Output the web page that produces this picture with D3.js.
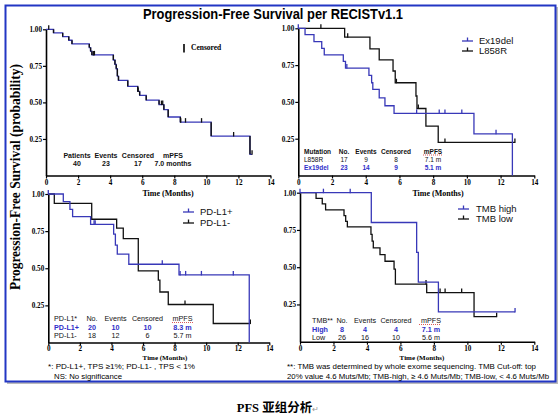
<!DOCTYPE html>
<html><head><meta charset="utf-8">
<script src="https://cdn.jsdelivr.net/npm/d3@7"></script>
<style>body{margin:0;background:#fff}svg{display:block}</style>
</head><body>
<svg id="c" width="560" height="420"></svg>
<script>
// ---------- data ----------
const xTicks = [0, 2, 4, 6, 8, 10, 12, 14];
const yTicks = [0.25, 0.50, 0.75, 1.00];
const titleText = "Progression-Free Survival per RECISTv1.1";
const yLabelText = "Progression-Free Survival (probability)";
const xLabelText = "Time (Months)";

// Panel A: all patients
const allTimes  = [0.47, 1.04, 1.42, 1.62, 2.70, 2.78, 2.86, 4.20, 4.30, 4.38, 4.45, 4.52, 5.10, 5.72, 5.84, 6.25, 7.05, 7.35, 7.62, 8.38, 10.30, 12.72];
const allSurv   = [0.975, 0.95, 0.925, 0.90, 0.875, 0.85, 0.825, 0.79, 0.76, 0.73, 0.68, 0.65, 0.61, 0.575, 0.548, 0.515, 0.485, 0.45, 0.40, 0.365, 0.27, 0.145];
const allCensor = [0.17, 2.95, 3.02, 5.75, 7.20, 7.28, 8.40, 8.70, 9.70, 11.70, 12.85];
const allEnd = 12.85;
const tableAHeader = ["Patients", "Events", "Censored", "mPFS"];
const tableARow = ["40", "23", "17", "7.0 months"];
const censoredLegend = "Censored";

// Panel B: mutation
const mutLabels = ["Ex19del", "L858R"];
const exTimes  = [0.40, 0.93, 1.39, 1.54, 2.67, 2.80, 4.19, 4.35, 4.42, 4.80, 5.14, 5.68, 10.42, 12.70];
const exSurv   = [0.957, 0.91, 0.864, 0.82, 0.775, 0.73, 0.68, 0.63, 0.585, 0.528, 0.474, 0.422, 0.283, 0.0];
const exCensor = [0.0, 2.88, 7.02, 8.36, 8.70, 9.70, 11.73];
const exEnd = 12.70;
const lTimes  = [2.75, 4.25, 4.80, 5.62, 5.75, 6.98, 7.04, 7.57, 8.30];
const lSurv   = [0.94, 0.86, 0.785, 0.71, 0.63, 0.54, 0.455, 0.335, 0.225];
const lCensor = [1.34, 2.93, 5.82, 7.12, 8.70, 12.85];
const lEnd = 12.85;
const tableBHeader = ["Mutation", "No.", "Events", "Censored", "mPFS"];
const tableBRows = [["L858R", "17", "9", "8", "7.1 m"], ["Ex19del", "23", "14", "9", "5.1 m"]];

// Panel C: PD-L1
const pdLabels = ["PD-L1+", "PD-L1-"];
const pTimes  = [0.95, 1.37, 1.54, 2.68, 4.14, 4.25, 4.37, 5.10, 8.28, 12.73];
const pSurv   = [0.948, 0.897, 0.847, 0.796, 0.73, 0.656, 0.595, 0.527, 0.455, 0.0];
const pCensor = [0.0, 2.90, 2.97, 7.22, 8.35, 8.70, 9.70, 11.72];
const pEnd = 12.73;
const nTimes  = [0.38, 2.75, 4.33, 4.75, 5.70, 6.97, 7.07, 7.60, 10.45];
const nSurv   = [0.937, 0.83, 0.77, 0.70, 0.483, 0.42, 0.34, 0.256, 0.128];
const nCensor = [8.66, 12.80];
const nEnd = 12.80;
const tableCHeader = ["PD-L1*", "No.", "Events", "Censored", "mPFS"];
const tableCRows = [["PD-L1+", "20", "10", "10", "8.3 m"], ["PD-L1-", "18", "12", "6", "5.7 m"]];
const noteC = ["*: PD-L1+,   TPS \u22651%; PD-L1- , TPS < 1%", "NS: No significance"];

// Panel D: TMB
const tmbLabels = ["TMB high", "TMB low"];
const hTimes  = [4.26, 6.97, 7.07, 8.27];
const hSurv   = [0.80, 0.60, 0.40, 0.20];
const hCensor = [0.0, 1.40, 3.00, 12.85];
const hEnd = 12.85;
const wTimes  = [0.96, 1.33, 1.53, 2.63, 2.73, 2.83, 4.24, 4.31, 4.38, 4.78, 5.08, 5.62, 5.70, 7.57, 10.40];
const wSurv   = [0.962, 0.925, 0.885, 0.846, 0.808, 0.77, 0.72, 0.675, 0.63, 0.585, 0.54, 0.487, 0.387, 0.33, 0.168];
const wCensor = [7.53, 8.37, 8.67, 9.66, 11.75];
const wEnd = 11.75;
const tableDHeader = ["TMB**", "No.", "Events", "Censored", "mPFS"];
const tableDRows = [["High", "8", "4", "4", "7.1 m"], ["Low", "26", "16", "10", "5.6 m"]];
const noteD = ["**:  TMB was determined by whole exome sequencing. TMB Cut-off: top",
               "20% value 4.6 Muts/Mb; TMB-high, \u2265 4.6 Muts/Mb; TMB-low,  <  4.6 Muts/Mb"];
const captionMain = "PFS ";
const captionCJK = "亚组分析";

// ---------- drawing ----------
const svg = d3.select("#c");
const BLUE = "#3838b8", TBLUE = "#2e2ec8", BLACK = "#111";
const SERIF = "'Liberation Serif','Times New Roman',serif";
const SANS = "'Liberation Sans',Arial,sans-serif";

// border
svg.append("rect").attr("x", 7).attr("y", 7).attr("width", 551).attr("height", 377).attr("fill", "#bbb");
svg.append("rect").attr("x", 5.5).attr("y", 5.5).attr("width", 550).attr("height", 376)
  .attr("fill", "#fff").attr("stroke", "#2236c4").attr("stroke-width", 2);

svg.append("text").attr("x", 273).attr("y", 19).attr("text-anchor", "middle")
  .attr("font-family", SANS).attr("font-weight", "bold").attr("font-size", 14)
  .attr("textLength", 260).attr("lengthAdjust", "spacingAndGlyphs").text(titleText);

svg.append("text").attr("transform", "translate(20,177) rotate(-90)").attr("text-anchor", "middle")
  .attr("font-family", SERIF).attr("font-weight", "bold").attr("font-size", 15.5)
  .attr("textLength", 226).attr("lengthAdjust", "spacingAndGlyphs").text(yLabelText);

function survAt(times, surv, t) {
  let s = 1;
  times.forEach((tt, i) => { if (tt <= t) s = surv[i]; });
  return s;
}
function stepPts(times, surv, end) {
  const pts = [[0, 1]]; let s = 1;
  times.forEach((t, i) => { pts.push([t, s]); s = surv[i]; pts.push([t, s]); });
  pts.push([end, s]);
  return pts;
}

function makePanel(p) {
  const x = d3.scaleLinear().domain([0, 14]).range([p.x0, p.x1]);
  const y = d3.scaleLinear().domain([0, 1]).range([p.yb, p.yt]);
  const g = svg.append("g");
  const ax = g.append("g").attr("transform", `translate(0,${p.yb})`)
    .call(d3.axisBottom(x).tickValues(xTicks).tickSize(3).tickSizeOuter(0).tickPadding(p.tp));
  const ay = g.append("g").attr("transform", `translate(${p.x0},0)`)
    .call(d3.axisLeft(y).tickValues(yTicks).tickFormat(d3.format(".2f")).tickSize(3).tickSizeOuter(0).tickPadding(1));
  [ax, ay].forEach(a => {
    a.select(".domain").attr("stroke", "#000").attr("stroke-width", 1.6);
    a.selectAll(".tick line").attr("stroke", "#000").attr("stroke-width", 1.2);
    a.selectAll("text").attr("font-family", SERIF).attr("font-weight", "bold")
      .attr("font-size", 7.2).attr("fill", "#000");
  });
  g.append("text").attr("x", p.lx).attr("y", p.ly).attr("text-anchor", "middle")
    .attr("font-family", SERIF).attr("font-weight", "bold").attr("font-size", p.lfs).text(xLabelText);
  return { x, y, g };
}

function drawCurve(P, times, surv, censor, end, color, vColor) {
  const line = d3.line().x(d => P.x(d[0])).y(d => P.y(d[1]));
  const pts = stepPts(times, surv, end);
  P.g.append("path").attr("d", line(pts)).attr("fill", "none")
    .attr("stroke", color).attr("stroke-width", 1.3);
  if (vColor) {
    let s = 1;
    times.forEach((t, i) => {
      P.g.append("line").attr("x1", P.x(t)).attr("x2", P.x(t)).attr("y1", P.y(s)).attr("y2", P.y(surv[i]))
        .attr("stroke", vColor).attr("stroke-width", 1.4);
      s = surv[i];
    });
  }
  censor.forEach(t => {
    const s = survAt(times, surv, t);
    P.g.append("line").attr("x1", P.x(t)).attr("x2", P.x(t))
      .attr("y1", P.y(s) - 4).attr("y2", P.y(s) + 0.5)
      .attr("stroke", vColor || color).attr("stroke-width", 1.3);
  });
}

function legend(items, colors, lx0, lx1, ys, tx, fs) {
  items.forEach((lab, i) => {
    svg.append("line").attr("x1", lx0).attr("x2", lx1).attr("y1", ys[i]).attr("y2", ys[i])
      .attr("stroke", colors[i]).attr("stroke-width", 1.3);
    svg.append("line").attr("x1", (lx0 + lx1) / 2).attr("x2", (lx0 + lx1) / 2)
      .attr("y1", ys[i] - 3.5).attr("y2", ys[i]).attr("stroke", colors[i]).attr("stroke-width", 1.3);
    svg.append("text").attr("x", tx).attr("y", ys[i] + 3.3).attr("font-family", SANS)
      .attr("font-size", fs).attr("fill", "#111").text(lab);
  });
}

function table(header, rows, leftX, centers, ys, rowColors, headBold, rowBold, fs) {
  const all = [header].concat(rows);
  all.forEach((r, ri) => {
    r.forEach((cell, ci) => {
      const t = svg.append("text").attr("y", ys[ri]).attr("font-family", SANS).attr("font-size", fs)
        .attr("fill", ri === 0 ? "#111" : rowColors[ri - 1])
        .attr("font-weight", ri === 0 ? (headBold ? "bold" : "normal") : (rowBold[ri - 1] ? "bold" : "normal"))
        .text(cell);
      if (leftX != null && ci === 0) t.attr("x", leftX);
      else t.attr("x", centers[leftX != null ? ci - 1 : ci]).attr("text-anchor", "middle");
    });
  });
}
function squiggle(x0, x1, yy) {
  svg.append("line").attr("x1", x0).attr("x2", x1).attr("y1", yy).attr("y2", yy)
    .attr("stroke", "#d03030").attr("stroke-width", 0.8).attr("stroke-dasharray", "1,1");
}

// Panel A
const PA = makePanel({ x0: 46, x1: 270.5, yt: 29.3, yb: 175.5, lx: 168, ly: 196, tp: 1.5, lfs: 8 });
drawCurve(PA, allTimes, allSurv, allCensor, allEnd, BLUE, BLACK);
svg.append("line").attr("x1", 184).attr("x2", 184).attr("y1", 44).attr("y2", 52.5)
  .attr("stroke", "#000").attr("stroke-width", 1.6);
svg.append("text").attr("x", 191).attr("y", 50).attr("font-family", SERIF).attr("font-weight", "bold")
  .attr("font-size", 7.5).text(censoredLegend);
table(tableAHeader, [tableARow], null, [77, 106, 138, 173], [157.5, 165.5], ["#111"], true, [true], 7);

// Panel B
const PB = makePanel({ x0: 298.3, x1: 534.3, yt: 28.3, yb: 175.5, lx: 438, ly: 196, tp: 1.5, lfs: 8 });
drawCurve(PB, lTimes, lSurv, lCensor, lEnd, BLACK, null);
drawCurve(PB, exTimes, exSurv, exCensor, exEnd, BLUE, null);
legend(mutLabels, [BLUE, BLACK], 462, 473, [41, 51], 479, 9.5);
table(tableBHeader, tableBRows, 304, [344, 366, 396, 433], [153.5, 161.5, 169.5], ["#111", TBLUE], true, [false, true], 6.5);
squiggle(423, 442, 155);

// Panel C
const PC = makePanel({ x0: 48.3, x1: 269.3, yt: 194, yb: 342.5, lx: 165, ly: 359.8, tp: 0.8, lfs: 7 });
drawCurve(PC, nTimes, nSurv, nCensor, nEnd, BLACK, null);
drawCurve(PC, pTimes, pSurv, pCensor, pEnd, BLUE, null);
legend(pdLabels, [BLUE, BLACK], 183, 194, [212, 223], 200, 9.5);
table(tableCHeader, tableCRows, 54, [92, 115.5, 147.5, 182.5], [320.5, 329.5, 337.5], [TBLUE, "#111"], false, [true, false], 7.2);
squiggle(172, 193, 322.5);
svg.append("text").attr("x", 48).attr("y", 368.8).attr("font-family", SANS).attr("font-size", 7.3)
  .attr("textLength", 147).attr("lengthAdjust", "spacingAndGlyphs").text(noteC[0]);
svg.append("text").attr("x", 54).attr("y", 379.3).attr("font-family", SANS).attr("font-size", 7.3)
  .attr("textLength", 68).attr("lengthAdjust", "spacingAndGlyphs").text(noteC[1]);

// Panel D
const PD = makePanel({ x0: 300, x1: 534.3, yt: 192.7, yb: 341.7, lx: 422, ly: 359.5, tp: 0.8, lfs: 7 });
drawCurve(PD, wTimes, wSurv, wCensor, wEnd, BLACK, null);
drawCurve(PD, hTimes, hSurv, hCensor, hEnd, BLUE, null);
legend(tmbLabels, [BLUE, BLACK], 458, 469, [209, 219], 476, 9.5);
table(tableDHeader, tableDRows, 312, [342, 365, 396, 431], [322.5, 331.5, 339.5], [TBLUE, "#111"], false, [true, false], 7.2);
squiggle(419, 440, 324.5);
svg.append("text").attr("x", 287).attr("y", 368.8).attr("font-family", SANS).attr("font-size", 7.3)
  .attr("textLength", 249).attr("lengthAdjust", "spacingAndGlyphs").text(noteD[0]);
svg.append("text").attr("x", 287).attr("y", 379.3).attr("font-family", SANS).attr("font-size", 7.3)
  .attr("textLength", 262).attr("lengthAdjust", "spacingAndGlyphs").text(noteD[1]);

// caption
const cap = svg.append("text").attr("x", 278).attr("y", 412).attr("text-anchor", "middle")
  .attr("font-weight", "bold").attr("font-size", 12.5);
cap.append("tspan").attr("font-family", SERIF).text(captionMain);
cap.append("tspan").attr("font-family", "'Noto Sans CJK SC',sans-serif").text(captionCJK);
cap.append("tspan").attr("font-family", SANS).attr("font-weight", "normal").attr("font-size", 8)
  .attr("fill", "#999").text("\u21B5");
</script>
</body></html>
